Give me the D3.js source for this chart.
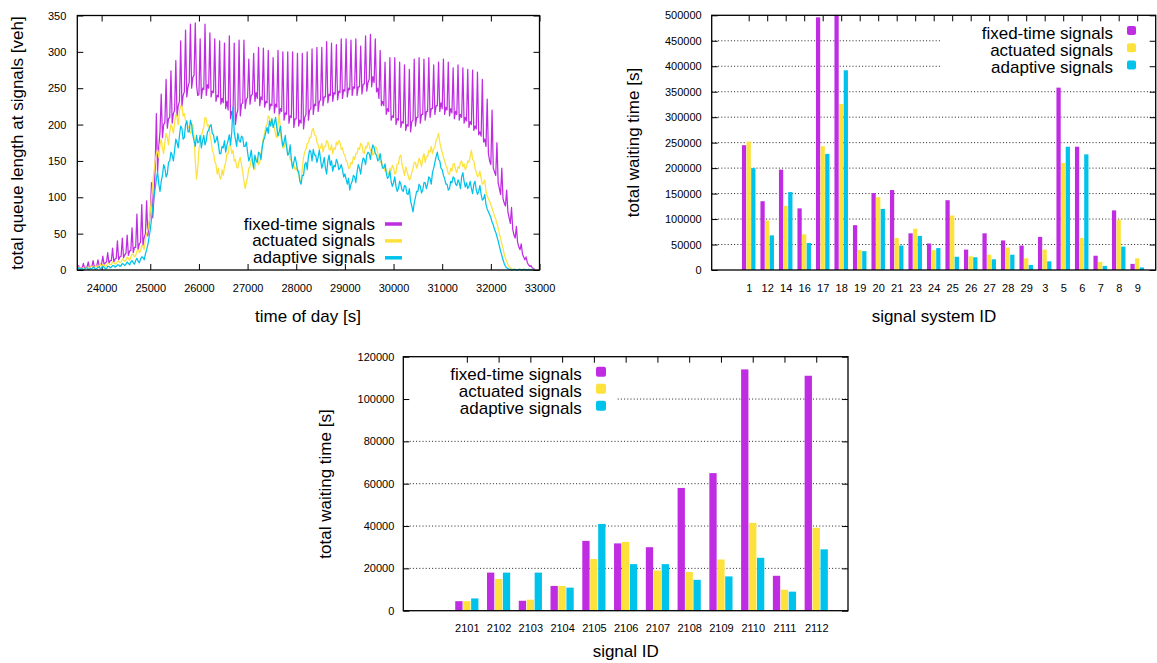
<!DOCTYPE html>
<html><head><meta charset="utf-8">
<script src="https://cdn.jsdelivr.net/npm/d3@7"></script>
<style>
html,body{margin:0;padding:0;background:#fff;}
svg{display:block;font-family:"Liberation Sans",Arial,Helvetica,sans-serif;}
</style></head><body>
<svg id="c" width="1157" height="663"></svg>
<script>
// ---------- shared ----------
const seriesNames = ["fixed-time signals", "actuated signals", "adaptive signals"];
const seriesColors = ["#c02ce2", "#fde23c", "#00c3ec"];

// ---------- panel 1 : queue length over time (one sample every 25 s) ----------
const timeStart = 23500;
const sampleStep = 25;
const fixedQueue = [
  2,6,1,3, 3,9,2,4, 4,11,3,5, 5,13,4,6, 6,14,5,8,
  8,19,7,10, 11,24,9,13, 13,30,11,15, 16,40,14,18, 19,44,17,21,
  23,48,20,26, 27,58,24,31, 31,77,28,36, 38,90,34,45, 50,95,47,62,
  78,120,72,100, 140,215,135,170, 190,242,182,200, 203,262,195,208, 210,274,202,215,
  220,288,212,226, 232,315,225,240, 245,330,238,252, 258,338,250,265, 268,340,255,240,
  242,318,236,250, 248,338,240,255, 250,326,238,246, 244,318,232,240, 238,315,228,236,
  230,312,222,232, 220,322,208,218, 212,312,200,214, 220,316,212,228, 230,316,222,234,
  238,290,228,240, 242,298,232,244, 236,306,226,238, 234,305,224,232, 230,302,220,228,
  226,292,216,228, 224,302,212,222, 218,300,206,216, 214,300,202,212, 210,300,196,208,
  208,298,198,206, 202,298,194,210, 214,300,206,220, 222,304,214,228, 226,306,218,232,
  234,306,226,238, 238,314,230,242, 240,312,232,244, 242,310,234,246, 244,318,236,248,
  246,318,238,250, 248,316,240,252, 250,318,240,252, 252,308,242,255, 256,322,246,258,
  262,324,252,266, 258,318,245,250, 236,302,226,232, 226,286,214,222, 218,292,206,212,
  210,292,200,208, 206,286,196,204, 202,282,192,200, 198,276,190,204, 206,290,198,210,
  210,292,202,214, 214,290,206,218, 218,292,210,222, 222,282,214,226, 226,286,218,230,
  222,290,214,224, 220,286,212,222, 216,278,208,218, 214,282,206,214, 210,278,202,210,
  205,276,196,204, 200,275,192,198, 194,272,186,190, 184,262,176,180, 170,235,160,150,
  145,220,140,135, 130,175,120,112, 104,140,98,92, 88,110,80,72, 64,86,56,48,
  44,60,38,32, 28,36,22,18, 14,18,10,7, 5,6,3,2, 1
];
const actuatedQueue = [
  2,4,1,2,3,1,2,4,4,2,3,5,5,3,3,6,5,4,6,8,
  5,8,7,5,6,9,9,7,8,11,10,8,9,12,12,10,11,15,14,12,
  14,18,16,13,18,22,22,18,20,26,28,24,26,34,32,28,42,50,55,65,
  80,100,118,135,150,160,165,155,172,180,168,160,176,188,182,172,190,200,196,188,
  202,214,210,200,218,226,225,212,215,205,205,195,198,188,190,200,182,150,125,140,
  165,178,182,192,196,210,208,198,200,186,178,165,160,150,145,132,140,128,125,138,
  130,142,148,160,160,172,172,160,165,150,152,142,140,150,155,145,135,122,112,120,
  128,140,142,152,150,138,138,150,155,145,148,160,172,182,188,198,200,212,210,200,
  208,198,196,186,182,200,214,190,176,168,168,176,172,162,160,152,150,140,145,138,
  142,135,132,122,124,140,155,162,166,174,175,182,182,192,195,186,185,176,172,166,
  168,174,162,170,170,178,176,166,165,172,160,168,166,176,172,178,175,166,168,160,
  158,150,148,140,140,148,146,156,152,160,160,168,166,174,172,162,160,170,168,176,
  172,164,166,158,160,170,168,160,156,148,150,142,142,136,138,132,132,140,136,144,
  140,132,134,146,146,156,158,145,138,130,142,136,130,124,126,134,140,148,148,140,
  146,154,150,142,154,160,148,156,156,164,162,170,160,166,170,178,182,188,176,168,
  162,155,150,144,140,132,132,140,136,146,146,138,134,142,140,148,150,142,146,138,
  142,150,148,156,165,152,150,140,135,128,130,136,126,118,120,124,108,102,98,94,
  90,85,80,74,70,64,58,50,44,36,30,22,16,12,8,5,3,2,1,1,
  1,0,0,1,1,0,1,1,0,0,0,1,1,0,0,1,0
];
const adaptiveQueue = [
  1,3,0,2,2,0,1,3,3,1,1,2,2,4,3,1,2,4,4,2,
  3,5,4,2,2,5,5,3,4,6,6,4,5,7,7,5,6,9,8,6,
  8,11,9,7,11,13,10,8,13,16,12,10,15,18,17,14,22,28,35,45,
  55,70,85,100,112,125,135,118,108,122,130,145,140,128,132,148,150,162,158,150,
  165,180,175,168,185,198,195,180,182,200,205,190,190,206,200,185,178,170,185,175,
  176,185,168,178,185,172,178,190,192,198,200,188,186,175,178,184,172,160,160,170,
  168,178,162,172,178,186,172,190,224,190,180,170,188,178,176,184,182,170,170,176,
  162,150,155,165,150,140,158,150,148,162,160,152,168,178,182,190,196,188,205,198,
  208,196,202,210,196,184,190,198,182,170,176,185,170,158,160,172,152,140,148,156,
  148,138,135,122,118,130,130,145,148,138,156,165,162,150,166,158,158,148,155,165,
  152,140,146,155,140,132,150,158,144,150,136,144,142,152,148,138,140,145,138,128,
  132,125,118,126,110,118,122,130,128,120,135,145,140,132,146,154,152,145,158,162,
  160,152,165,172,168,160,158,150,152,160,148,140,140,146,134,126,128,136,122,115,
  120,128,115,108,112,122,118,110,108,116,115,105,104,112,95,88,80,92,100,108,
  108,118,115,106,110,120,120,112,118,128,126,118,134,140,148,156,162,152,150,140,
  138,130,126,118,118,110,112,122,120,128,126,118,116,124,120,112,128,134,122,114,
  120,112,115,122,112,105,118,122,110,104,108,116,104,96,98,104,90,84,80,76,
  72,66,62,56,52,46,40,33,26,20,14,9,5,3,2,1,1,0,0,1,
  1,0,0,1,1,0,0,1,1,0,0,1,0,0,1,0,0
];
const queueXTicks = [24000,25000,26000,27000,28000,29000,30000,31000,32000,33000];
const queueYTicks = [0,50,100,150,200,250,300,350];

// ---------- panel 2 : waiting time per signal system ----------
const systemIds = ["1","12","14","16","17","18","19","20","21","23","24","25","26","27","28","29","3","5","6","7","8","9"];
const systemFixed    = [245000,135000,197000,121000,496000,510000,88000,151000,157000,72000,52000,137000,40000,72000,58000,48000,65000,358000,242000,28000,117000,12000];
const systemActuated = [252000,97000,126000,70000,243000,326000,39000,143000,63000,81000,39000,107000,27000,30000,44000,23000,40000,210000,63000,16000,99000,23000];
const systemAdaptive = [200000,68000,153000,53000,228000,392000,37000,120000,48000,67000,43000,26000,25000,21000,30000,10000,17000,242000,227000,8000,46000,5000];
const systemYTicks = [0,50000,100000,150000,200000,250000,300000,350000,400000,450000,500000];

// ---------- panel 3 : waiting time per signal ----------
const signalIds = ["2101","2102","2103","2104","2105","2106","2107","2108","2109","2110","2111","2112"];
const signalFixed    = [4500,18000,4700,11700,33000,31800,30000,58000,65000,114000,16500,111000];
const signalActuated = [4500,15000,5200,11700,24400,32500,19000,18300,24200,41500,9900,39200];
const signalAdaptive = [5800,18000,18000,10900,41000,22000,22000,14600,16200,25000,9000,29000];
const signalYTicks = [0,20000,40000,60000,80000,100000,120000];

// ================= drawing =================
const svg = d3.select("#c");
svg.append("rect").attr("width",1157).attr("height",663).attr("fill","#fff");
const FONT_TICK = 11, FONT_BIG = 17, TICK = 6;
const FAMILY = '"Liberation Sans",Arial,sans-serif';

function frameAndAxes(g, x, y, opts) {
  const [x0,x1] = x.range(), [y1,y0] = y.range();
  g.append("g").attr("transform",`translate(${x0},0)`)
    .call(d3.axisLeft(y).tickValues(opts.yTicks).tickSize(-TICK).tickPadding(opts.yPad).tickFormat(d3.format("d")))
    .attr("font-size",FONT_TICK).attr("font-family",FAMILY)
    .call(a=>a.select(".domain").remove()).call(a=>a.selectAll("text").attr("fill","#000"));
  g.append("g").attr("transform",`translate(${x1},0)`)
    .call(d3.axisRight(y).tickValues(opts.yTicks).tickSize(-TICK).tickFormat(""))
    .call(a=>a.select(".domain").remove());
  g.append("g").attr("transform",`translate(0,${y0})`)
    .call(d3.axisTop(x).tickValues(opts.xTicks).tickSize(-TICK).tickFormat(""))
    .call(a=>a.select(".domain").remove());
  g.append("rect").attr("x",x0).attr("y",y0).attr("width",x1-x0).attr("height",y1-y0)
    .attr("fill","none").attr("stroke","#000").attr("stroke-width",1.3);
}
function bottomAxis(g, x, y, ticks, fmt, withTicks) {
  const y1 = y.range()[0];
  g.append("g").attr("transform",`translate(0,${y1})`)
    .call(d3.axisBottom(x).tickValues(ticks).tickSize(withTicks ? -TICK : 0).tickPadding(14).tickFormat(fmt))
    .attr("font-size",FONT_TICK).attr("font-family",FAMILY)
    .call(a=>a.select(".domain").remove()).call(a=>a.selectAll("text").attr("fill","#000"));
}
function yTitle(g, text, cx, cy) {
  g.append("text").attr("transform",`translate(${cx},${cy}) rotate(-90)`)
    .attr("text-anchor","middle").attr("dominant-baseline","central")
    .attr("font-size",FONT_BIG).text(text);
}
function xTitle(g, text, cx, cy) {
  g.append("text").attr("x",cx).attr("y",cy).attr("text-anchor","middle")
    .attr("dominant-baseline","central").attr("font-size",FONT_BIG).text(text);
}

// ---------- panel 1 ----------
{
  const g = svg.append("g");
  const x = d3.scaleLinear().domain([23500,33000]).range([77.3,539.5]);
  const y = d3.scaleLinear().domain([0,350]).range([270,15.5]);
  bottomAxis(g, x, y, queueXTicks, d3.format("d"), true);
  const line = d3.line().x((d,i)=>x(timeStart + i*sampleStep)).y(d=>y(d));
  [fixedQueue, actuatedQueue, adaptiveQueue].forEach((vals,k)=>{
    g.append("path").datum(vals).attr("d", line).attr("fill","none")
      .attr("stroke", seriesColors[k]).attr("stroke-width",1.25).attr("stroke-linejoin","round");
  });
  seriesNames.forEach((n,k)=>{
    const cy = 224 + k*16.9;
    g.append("text").attr("x",375).attr("y",cy).attr("text-anchor","end")
      .attr("dominant-baseline","central").attr("font-size",FONT_BIG).text(n);
    g.append("line").attr("x1",385).attr("x2",402).attr("y1",cy).attr("y2",cy)
      .attr("stroke",seriesColors[k]).attr("stroke-width",3.5);
  });
  frameAndAxes(g, x, y, {yTicks: queueYTicks, xTicks: queueXTicks, yPad: 11});
  yTitle(g, "total queue length at signals [veh]", 17, 143);
  xTitle(g, "time of day [s]", 308, 316);
}

// ---------- bar panels ----------
function barPanel(cfg) {
  const g = svg.append("g");
  const n = cfg.ids.length;
  const x = d3.scaleLinear().domain([-2, n]).range(cfg.xr);
  const y = d3.scaleLinear().domain([0, cfg.yTicks[cfg.yTicks.length-1]]).range(cfg.yr).clamp(true);
  const idx = d3.range(n);
  g.selectAll(".grid").data(cfg.yTicks.slice(1,-1)).join("line")
    .attr("x1",cfg.xr[0]).attr("x2",cfg.xr[1]).attr("y1",d=>y(d)).attr("y2",d=>y(d))
    .attr("stroke","#222").attr("stroke-width",1).attr("stroke-dasharray","1,2.2");
  bottomAxis(g, x, y, idx, i=>cfg.ids[i], false);
  const u = x(1)-x(0);
  [cfg.fixed, cfg.actuated, cfg.adaptive].forEach((vals,k)=>{
    g.selectAll(null).data(vals).join("rect")
      .attr("x",(d,i)=>x(i + (k-1)*0.25) - 0.115*u)
      .attr("width",0.23*u)
      .attr("y",d=>y(d)).attr("height",d=>y(0)-y(d))
      .attr("fill",seriesColors[k]);
  });
  g.append("rect").attr("x",cfg.box[0]).attr("y",cfg.box[1]).attr("width",cfg.box[2]).attr("height",cfg.box[3]).attr("fill","#fff");
  seriesNames.forEach((nm,k)=>{
    const cy = cfg.leg[1] + k*cfg.leg[3];
    g.append("text").attr("x",cfg.leg[0]).attr("y",cy).attr("text-anchor","end")
      .attr("dominant-baseline","central").attr("font-size",FONT_BIG).text(nm);
    g.append("rect").attr("x",cfg.leg[2]).attr("y",cy-2.5-cfg.sw/2).attr("width",cfg.sw).attr("height",cfg.sw)
      .attr("rx",2).attr("fill",seriesColors[k]);
  });
  frameAndAxes(g, x, y, {yTicks: cfg.yTicks, xTicks: idx, yPad: cfg.yPad});
  yTitle(g, "total waiting time [s]", cfg.yt[0], cfg.yt[1]);
  xTitle(g, cfg.xTitle, cfg.xt[0], cfg.xt[1]);
}

barPanel({
  ids: systemIds, fixed: systemFixed, actuated: systemActuated, adaptive: systemAdaptive,
  yTicks: systemYTicks, xr: [711.7,1155.7], yr: [270,15.3], yPad: 10,
  box: [942,16,213,62], leg: [1113,33,1127,17.2], sw: 9,
  yt: [633,142.5], xTitle: "signal system ID", xt: [934,316]
});
barPanel({
  ids: signalIds, fixed: signalFixed, actuated: signalActuated, adaptive: signalAdaptive,
  yTicks: signalYTicks, xr: [403.3,848], yr: [610.7,356.7], yPad: 9,
  box: [404,357.5,213,62], leg: [581.7,374.3,596,17], sw: 10,
  yt: [325,484], xTitle: "signal ID", xt: [625.7,651.5]
});
</script>
</body></html>
